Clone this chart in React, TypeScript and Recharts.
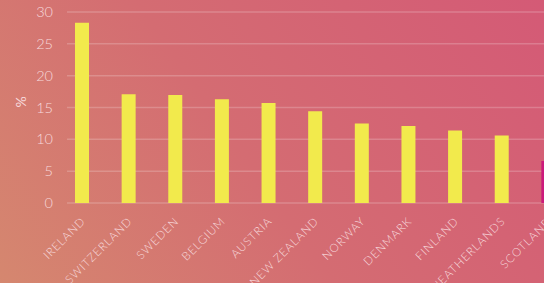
import React from "react";
import { BarChart, Bar, XAxis, YAxis, CartesianGrid, Cell, Label } from "recharts";

const countries = [
  "IRELAND",
  "SWITZERLAND",
  "SWEDEN",
  "BELGIUM",
  "AUSTRIA",
  "NEW ZEALAND",
  "NORWAY",
  "DENMARK",
  "FINLAND",
  "NEATHERLANDS",
  "SCOTLAND",
];
const values = [28.3, 17.1, 16.95, 16.3, 15.7, 14.4, 12.5, 12.1, 11.4, 10.6, 6.6];
const highlighted = ["SCOTLAND"];
const yTicks = [0, 5, 10, 15, 20, 25, 30];

const data = countries.map((c, i) => ({ name: c, value: values[i] }));

const TEXT = "#f7d9dc";
const FONT = "Lato, 'Open Sans', sans-serif";

const XTick = (props: any) => {
  const { x, y, payload } = props;
  return (
    <g transform={`translate(${x + 1},${y + 8})`}>
      <text
        x={0}
        y={0}
        dy="0.35em"
        textAnchor="end"
        transform="rotate(-45)"
        fill={TEXT}
        fontSize={11.5}
        fontFamily={FONT}
        fontWeight={300}
        letterSpacing={0.9}
      >
        {payload.value}
      </text>
    </g>
  );
};

export default function App() {
  return (
    <div
      style={{
        position: "absolute",
        left: 0,
        top: 0,
        width: 544,
        height: 283,
        overflow: "hidden",
        background: "linear-gradient(55deg, #d5876f 0%, #d46c72 45%, #d45a76 100%)",
      }}
    >
      <BarChart
        width={580}
        height={283}
        data={data}
        margin={{ top: 12, right: 0, bottom: 0, left: 0 }}
      >
        <CartesianGrid vertical={false} stroke="rgba(255,255,255,0.2)" strokeWidth={1.5} />
        <XAxis
          dataKey="name"
          axisLine={false}
          tickLine={false}
          interval={0}
          height={80}
          padding={{ left: -8, right: 8 }}
          tick={<XTick />}
        />
        <YAxis
          width={67}
          domain={[0, 30]}
          ticks={yTicks}
          axisLine={false}
          tickLine={false}
          tickSize={6}
          tickMargin={8}
          tick={{ fill: TEXT, fontSize: 14.5, fontFamily: FONT, fontWeight: 300 }}
        >
          <Label
            value="%"
            angle={-90}
            position="insideLeft"
            offset={21}
            fill={TEXT}
            fontSize={14}
            fontFamily={FONT}
          />
        </YAxis>
        <Bar dataKey="value" barSize={14} isAnimationActive={false}>
          {data.map((d) => (
            <Cell key={d.name} fill={highlighted.includes(d.name) ? "#cc1a7c" : "#f2ea4c"} />
          ))}
        </Bar>
      </BarChart>
    </div>
  );
}
